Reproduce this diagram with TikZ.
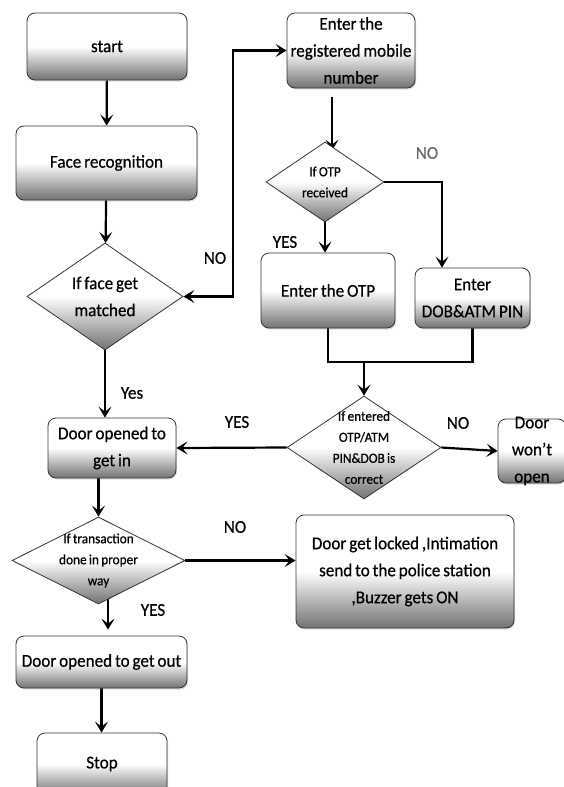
\documentclass[tikz,border=0pt]{standalone}
\usepackage{fontspec}
\setmainfont[FakeStretch=0.95,WordSpace=0.75,FakeBold=0.6]{Carlito}
\usetikzlibrary{
	shapes.geometric,
	arrows.meta,
	backgrounds,
	shadows,
	}
\pgfdeclareverticalshading{boxfade}{100bp}{color(0bp)=(black!55); color(25bp)=(black!55); color(33bp)=(black!38); color(50bp)=(white); color(100bp)=(white)}

\begin{document}
\begin{tikzpicture}[x=1pt,y=-1pt,
process/.style={draw=black!80,line width=0.8pt,shape=rectangle,rounded corners=8pt,shade,shading=boxfade,drop shadow={opacity=0.25,shadow xshift=1.2pt,shadow yshift=-1.5pt},align=center,inner sep=1pt,font=\fontsize{18}{27}\selectfont},
decision/.style={draw=black!80,line width=0.8pt,shape=diamond,shade,shading=boxfade,align=center,inner sep=-18pt,font=\fontsize{14}{21}\selectfont},
flow/.style={line width=2.2pt,-{Stealth[length=11pt,width=13pt,inset=5pt]}},
twoway/.style={line width=2.2pt,{Stealth[length=11pt,width=13pt,inset=5pt]}-{Stealth[length=11pt,width=13pt,inset=5pt]}},
joint/.style={line width=2.2pt},
lbl/.style={inner sep=0pt,font=\fontsize{18}{22}\selectfont}]
\useasboundingbox (0,0) rectangle (563,787);
\node[process,minimum width=160pt,minimum height=67pt] (start) at (107,46.5) {start};
\node[process,minimum width=181pt,minimum height=74pt] (face) at (106.5,163) {Face recognition};
\node[decision,minimum width=156pt,minimum height=107pt,font=\fontsize{18}{27}\selectfont] (match) at (105,296.5) {If face get\\matched};
\node[process,minimum width=128pt,minimum height=75pt] (mobile) at (351,50.5) {Enter the\\registered mobile\\number};
\node[decision,minimum width=118pt,minimum height=80pt] (otpq) at (325,182) {If OTP\\received};
\node[process,minimum width=134pt,minimum height=75pt] (otpbox) at (328,290.5) {Enter the OTP};
\node[process,minimum width=115pt,minimum height=60pt] (dob) at (472.5,298) {Enter\\DOB\&ATM PIN};
\node[decision,minimum width=154pt,minimum height=103pt] (check) at (364,447.5) {If entered\\OTP/ATM\\PIN\&DOB is\\correct};
\node[process,minimum width=68pt,minimum height=64pt,inner ysep=-8pt] (wont) at (532,451) {Door\\won’t\\open};
\node[process,minimum width=128pt,minimum height=60pt] (doorin) at (112,448) {Door opened to\\get in};
\node[decision,minimum width=173pt,minimum height=87pt] (trans) at (98.5,560.5) {If transaction\\done in proper\\way};
\node[process,minimum width=218pt,minimum height=113pt] (locked) at (405,571.5) {Door get locked ,Intimation\\send to the police station\\,Buzzer gets ON};
\node[process,minimum width=171pt,minimum height=52pt] (doorout) at (101.5,662) {Door opened to get out};
\node[process,minimum width=130pt,minimum height=62pt] (stop) at (102,764) {Stop};
\coordinate (noturn) at (233,296.5);
\coordinate (merge) at (364,362);
\begin{scope}[on background layer]
\draw[flow] (start) -- (face);
\draw[flow] (face) -- (match);
\draw[twoway] (match.east) -- (noturn) |- (mobile.west);
\draw[flow] ([xshift=-19pt,yshift=-9pt]mobile.south) -- ([xshift=-19pt,yshift=-9pt]mobile.south |- otpq.north);
\draw[flow] (otpq.south) -- (otpq.south |- otpbox.north);
\draw[flow] (otpq.east) -| ([xshift=-30.5pt]dob.north);
\draw[joint] (otpbox.south) |- (merge);
\draw[joint] (dob.south) |- (merge);
\draw[flow] (merge) -- (check.north);
\draw[flow] (check.west) -- (doorin.east);
\draw[flow] (check.east) -- (wont.west);
\draw[flow] (match.south) -- (match.south |- doorin.north);
\draw[flow] (doorin.south -| trans.north) -- (trans.north);
\draw[flow] (trans.east) -- (trans.east -| locked.west);
\draw[flow] ([xshift=9.5pt,yshift=6pt]trans.south) -- ([xshift=9.5pt,yshift=6pt]trans.south |- doorout.north);
\draw[flow] (doorout.south) -- (doorout.south |- stop.north);
\end{scope}
\node[lbl] (nomatch) at (215,258) {NO};
\node[lbl] (yesmatch) at (132,393) {Yes};
\node[lbl] (yesotp) at (285,242) {YES};
\node[lbl,text=black!60] (nootp) at (427,153) {NO};
\node[lbl] (yescheck) at (237,422) {YES};
\node[lbl] (nocheck) at (458,423) {NO};
\node[lbl] (notrans) at (235,527) {NO};
\node[lbl] (yestrans) at (153,610) {YES};
\end{tikzpicture}
\end{document}
